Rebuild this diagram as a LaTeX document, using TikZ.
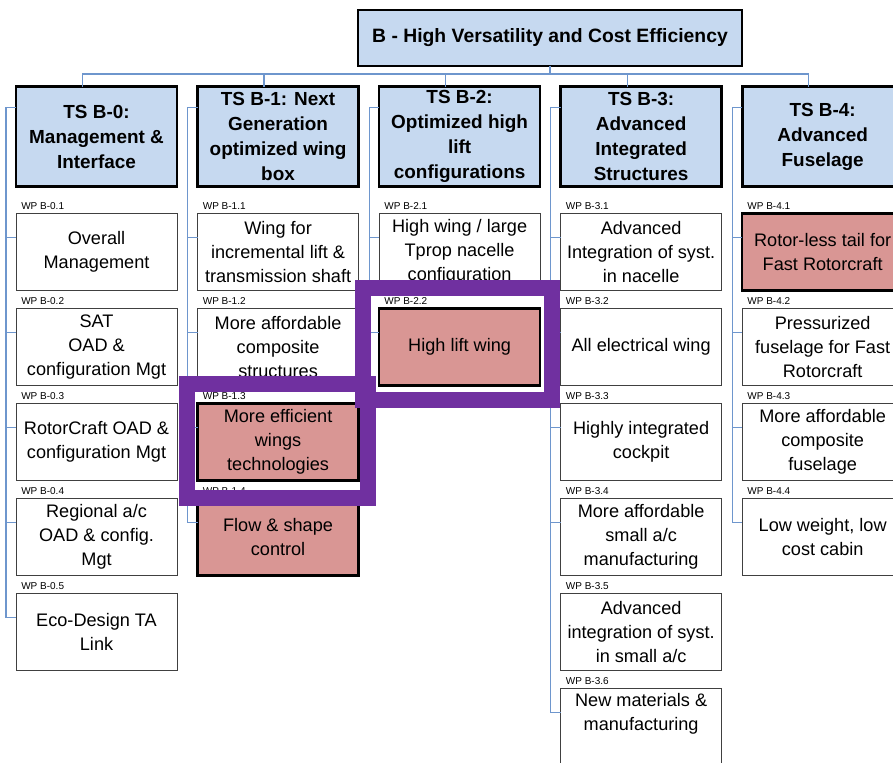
\documentclass[tikz,border=0pt]{standalone}
\usepackage{fontspec}
\setmainfont{Liberation Sans}
\usetikzlibrary{positioning,calc}
\definecolor{tsblue}{RGB}{198,217,240}
\definecolor{linkblue}{RGB}{110,150,205}
\definecolor{wpred}{RGB}{217,150,148}
\definecolor{hlpurple}{RGB}{112,48,160}
\tikzset{
  root/.style={draw=black, line width=2pt, fill=tsblue, outer sep=0pt,
               minimum width=288pt, minimum height=42pt,
               font=\fontsize{14.5}{18}\selectfont\bfseries},
  ts/.style={draw=black, line width=2pt, fill=tsblue, outer sep=0pt, inner sep=0pt,
             minimum width=120.75pt, minimum height=75pt, align=center,
             font=\fontsize{14.2}{18.75}\selectfont\bfseries},
  wp/.style={draw=black!75, line width=0.75pt, fill=white, outer sep=0pt, inner sep=0pt,
             minimum width=120.75pt, minimum height=57.75pt, align=center,
             font=\fontsize{13.6}{18}\selectfont},
  wphot/.style={wp, draw=black, line width=1.8pt, fill=wpred},
  wplab/.style={anchor=south west, inner sep=0pt, xshift=3.75pt, yshift=3pt,
                font=\fontsize{7.5}{9}\selectfont},
  link/.style={draw=linkblue, line width=0.9pt},
  hilite/.style={draw=hlpurple, line width=12pt},
}

\begin{document}
\begin{tikzpicture}[node distance=13.5pt and 15.4pt]
\useasboundingbox (0,0) rectangle (669.75pt,-572.25pt);
\clip (0,0) rectangle (669.75pt,-572.25pt);

\node[root] (top) at (412.5pt,-28.5pt) {B - High Versatility and Cost Efficiency};

% technical streams
\node[ts] (ts0) at (72.4pt,-102.4pt) {TS B-0:\\Management \&\\Interface};
\node[ts, right=of ts0] (ts1) {TS B-1: Next\\Generation\\optimized wing\\box};
\node[ts, right=of ts1] (ts2) {TS B-2:\\Optimized high\\lift\\configurations};
\node[ts, right=of ts2] (ts3) {TS B-3:\\Advanced\\Integrated\\Structures};
\node[ts, right=of ts3] (ts4) {TS B-4:\\Advanced\\Fuselage};

% work packages, B-0
\node[wp, below=20.25pt of ts0, label={[wplab]north west:WP B-0.1}] (b01) {Overall\\Management};
\node[wp, below=of b01, label={[wplab]north west:WP B-0.2}] (b02) {SAT\\OAD \&\\configuration Mgt};
\node[wp, below=of b02, label={[wplab]north west:WP B-0.3}] (b03) {RotorCraft OAD \&\\configuration Mgt};
\node[wp, below=of b03, label={[wplab]north west:WP B-0.4}] (b04) {Regional a/c\\OAD \& config.\\Mgt};
\node[wp, below=of b04, label={[wplab]north west:WP B-0.5}] (b05) {Eco-Design TA\\Link};

% B-1
\node[wp, below=20.25pt of ts1, label={[wplab]north west:WP B-1.1}] (b11) {Wing for\\incremental lift \&\\transmission shaft};
\node[wp, below=of b11, label={[wplab]north west:WP B-1.2}] (b12) {More affordable\\composite\\structures};
\node[wphot, below=of b12, label={[wplab]north west:WP B-1.3}] (b13) {More efficient\\wings\\technologies};
\node[wphot, below=of b13, label={[wplab]north west:WP B-1.4}] (b14) {Flow \& shape\\control};

% B-2
\node[wp, below=20.25pt of ts2, label={[wplab]north west:WP B-2.1}] (b21) {High wing / large\\Tprop nacelle\\configuration};
\node[wphot, below=of b21, label={[wplab]north west:WP B-2.2}] (b22) {High lift wing};

% B-3
\node[wp, below=20.25pt of ts3, label={[wplab]north west:WP B-3.1}] (b31) {Advanced\\Integration of syst.\\in nacelle};
\node[wp, below=of b31, label={[wplab]north west:WP B-3.2}] (b32) {All electrical wing};
\node[wp, below=of b32, label={[wplab]north west:WP B-3.3}] (b33) {Highly integrated\\cockpit};
\node[wp, below=of b33, label={[wplab]north west:WP B-3.4}] (b34) {More affordable\\small a/c\\manufacturing};
\node[wp, below=of b34, label={[wplab]north west:WP B-3.5}] (b35) {Advanced\\integration of syst.\\in small a/c};
\node[wp, below=of b35, label={[wplab]north west:WP B-3.6}] (b36) {New materials \&\\manufacturing\\\strut};

% B-4
\node[wphot, below=20.25pt of ts4, label={[wplab]north west:WP B-4.1}] (b41) {Rotor-less tail for\\Fast Rotorcraft};
\node[wp, below=of b41, label={[wplab]north west:WP B-4.2}] (b42) {Pressurized\\fuselage for Fast\\Rotorcraft};
\node[wp, below=of b42, label={[wplab]north west:WP B-4.3}] (b43) {More affordable\\composite\\fuselage};
\node[wp, below=of b43, label={[wplab]north west:WP B-4.4}] (b44) {Low weight, low\\cost cabin};

% bus from the top box
\draw[link] (top.south) -- ++(0,-6pt) coordinate (bus);
\foreach \i in {0,...,4}
  \draw[link] (bus) -| ([xshift=-10.5pt]ts\i.north);

% spines down each column
\draw[link] ([yshift=22pt]ts0.west) -- ++(-7.5pt,0) |- ([yshift=11pt]b05.west);
\foreach \j in {1,...,4}
  \draw[link] ([yshift=11pt]b0\j.west) -- ++(-7.5pt,0);
\draw[link] ([yshift=22pt]ts1.west) -- ++(-7.5pt,0) |- ([yshift=11pt]b14.west);
\foreach \j in {1,...,3}
  \draw[link] ([yshift=11pt]b1\j.west) -- ++(-7.5pt,0);
\draw[link] ([yshift=22pt]ts2.west) -- ++(-7.5pt,0) |- ([yshift=11pt]b22.west);
\draw[link] ([yshift=11pt]b21.west) -- ++(-7.5pt,0);
\draw[link] ([yshift=22pt]ts3.west) -- ++(-7.5pt,0) |- ([yshift=11pt]b36.west);
\foreach \j in {1,...,4}
  \draw[link] ([yshift=11pt]b3\j.west) -- ++(-7.5pt,0);
\draw[link] ([yshift=22pt]ts4.west) -- ++(-7.5pt,0) |- ([yshift=11pt]b44.west);
\foreach \j in {1,...,3}
  \draw[link] ([yshift=11pt]b4\j.west) -- ++(-7.5pt,0);

% highlight frames
\draw[hilite] ([shift={(-12pt,15.75pt)}]b22.north west) rectangle ([shift={(9pt,-10.5pt)}]b22.south east);
\draw[hilite] ([shift={(-8.25pt,15pt)}]b13.north west) rectangle ([shift={(6.75pt,-12.75pt)}]b13.south east);
\end{tikzpicture}
\end{document}
